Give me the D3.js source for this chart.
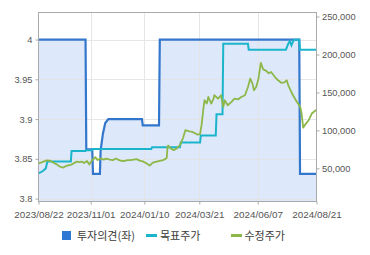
<!DOCTYPE html>
<html><head><meta charset="utf-8">
<script src="https://cdn.jsdelivr.net/npm/d3@7"></script>
<style>html,body{margin:0;padding:0;background:#fff;}svg{display:block;}</style>
</head><body>
<svg id="chart" width="370" height="255"></svg>
<script>
// Investment opinion (left axis)
const opinionDates = ["2023-08-22","2023-10-25","2023-10-26","2023-11-03","2023-11-04","2023-11-13","2023-11-14","2023-11-17","2023-11-20","2023-11-24","2024-01-07","2024-01-08","2024-01-29","2024-01-30","2024-07-30","2024-07-31","2024-08-21"];
const opinionValues = [4,4,3.862,3.862,3.831,3.831,3.861,3.882,3.895,3.9,3.9,3.892,3.892,4,4,3.831,3.831];

// Target price (right axis)
const targetDates = ["2023-08-22","2023-08-28","2023-09-01","2023-09-03","2023-10-05","2023-10-06","2023-10-25","2023-10-26","2023-11-03","2023-11-04","2024-01-19","2024-01-20","2024-02-25","2024-02-26","2024-03-22","2024-03-23","2024-04-12","2024-04-13","2024-04-21","2024-04-22","2024-05-25","2024-05-26","2024-07-13","2024-07-16","2024-07-18","2024-07-20","2024-07-23","2024-07-30","2024-07-31","2024-08-21"];
const targetValues = [43400,46500,50000,58900,58900,72700,72700,74000,74000,75500,75500,77700,77700,84000,84000,93200,93200,121300,121300,214000,214000,206300,206300,214200,217600,212000,219400,219400,206300,206300];

// Adjusted price (right axis)
const priceDates = ["2023-08-22","2023-08-27","2023-09-02","2023-09-07","2023-09-11","2023-09-16","2023-09-20","2023-09-25","2023-09-29","2023-10-06","2023-10-13","2023-10-17","2023-10-20","2023-10-23","2023-10-27","2023-10-30","2023-11-03","2023-11-07","2023-11-10","2023-11-14","2023-11-18","2023-11-21","2023-11-26","2023-11-30","2023-12-04","2023-12-08","2023-12-11","2023-12-14","2023-12-19","2023-12-23","2023-12-27","2023-12-31","2024-01-04","2024-01-08","2024-01-12","2024-01-17","2024-01-21","2024-01-26","2024-01-30","2024-02-03","2024-02-06","2024-02-08","2024-02-09","2024-02-10","2024-02-13","2024-02-17","2024-02-21","2024-02-25","2024-02-29","2024-03-03","2024-03-08","2024-03-12","2024-03-16","2024-03-19","2024-03-22","2024-03-24","2024-03-25","2024-03-27","2024-03-28","2024-03-31","2024-04-02","2024-04-04","2024-04-06","2024-04-09","2024-04-10","2024-04-15","2024-04-19","2024-04-22","2024-04-24","2024-04-28","2024-05-03","2024-05-07","2024-05-12","2024-05-16","2024-05-21","2024-05-25","2024-05-28","2024-05-31","2024-06-02","2024-06-05","2024-06-08","2024-06-11","2024-06-14","2024-06-18","2024-06-21","2024-06-24","2024-06-29","2024-07-03","2024-07-07","2024-07-11","2024-07-14","2024-07-16","2024-07-19","2024-07-22","2024-07-27","2024-07-31","2024-08-02","2024-08-04","2024-08-06","2024-08-11","2024-08-15","2024-08-20","2024-08-21"];
const priceValues = [56600,58300,60500,60000,57600,55000,52400,51100,53400,55000,58900,58300,58900,57000,59800,55000,60900,64800,60900,63100,61600,62900,61600,60900,62900,60900,60000,59600,60900,60900,61600,62200,60200,59200,57000,53700,57600,58900,60000,60900,62200,64000,78400,80000,76300,74000,76300,80500,90000,100300,98600,98100,96000,94500,95000,106900,115700,133100,139700,135300,144000,139700,135300,141900,146300,141900,146300,130900,139700,133100,137500,141900,141000,144000,146300,157200,168200,161600,152800,157200,168200,189000,180400,178400,175200,176900,170300,166000,162700,163300,166000,159400,152800,146300,137500,131800,122200,103600,106900,113400,122200,126600,126600];

const xTickDates = ["2023-08-22","2023-11-01","2024-01-10","2024-03-21","2024-06-07","2024-08-21"];
const leftTicks = [3.8,3.85,3.9,3.95,4];
const rightTicks = [50000,100000,150000,200000,250000];
const legendLabels = ["투자의견(좌)","목표주가","수정주가"];

const parse = d3.timeParse("%Y-%m-%d");
const fmtDate = d3.timeFormat("%Y/%m/%d");

const C = {opinion:"#3377cc", fill:"#dde8fa", target:"#1bb5cb", price:"#8db849", grid:"#e4e4e4", axis:"#aaaaaa", text:"#555555"};
const plotL = 38.5, plotR = 316.5, plotT = 12.5, plotB = 201;

const svg = d3.select("#chart");

const x = d3.scaleTime()
  .domain(xTickDates.map(parse))
  .range([plotL, 90.7, 144.3, 199.3, 257.7, plotR]);
const yL = d3.scaleLinear().domain([3.797, 4.034]).range([plotB, plotT]);
const yR = d3.scaleLinear().domain([7000, 255300]).range([plotB, plotT]);

const opinion = opinionDates.map((d,i)=>({d:parse(d), v:opinionValues[i]}));
const target = targetDates.map((d,i)=>({d:parse(d), v:targetValues[i]}));
const price = priceDates.map((d,i)=>({d:parse(d), v:priceValues[i]}));

// shaded area under the opinion line
svg.append("path").datum(opinion)
  .attr("fill", C.fill)
  .attr("d", d3.area().x(p=>x(p.d)).y0(plotB).y1(p=>yL(p.v)));

// grid
const grid = svg.append("g").attr("stroke", C.grid).attr("stroke-width", 1).attr("opacity", 0.9);
grid.selectAll("line.h").data(leftTicks).join("line").attr("class","h")
  .attr("x1", plotL).attr("x2", plotR)
  .attr("y1", d=>Math.round(yL(d))+0.5).attr("y2", d=>Math.round(yL(d))+0.5);
grid.selectAll("line.v").data(xTickDates.slice(1,-1)).join("line").attr("class","v")
  .attr("y1", plotT).attr("y2", plotB)
  .attr("x1", d=>Math.round(x(parse(d)))+0.5).attr("x2", d=>Math.round(x(parse(d)))+0.5);

// series lines
svg.append("path").datum(opinion)
  .attr("fill","none").attr("stroke", C.opinion).attr("stroke-width", 2.2)
  .attr("d", d3.line().x(p=>x(p.d)).y(p=>yL(p.v)));
svg.append("path").datum(target)
  .attr("fill","none").attr("stroke", C.target).attr("stroke-width", 2)
  .attr("d", d3.line().x(p=>x(p.d)).y(p=>yR(p.v)));
svg.append("path").datum(price)
  .attr("fill","none").attr("stroke", C.price).attr("stroke-width", 1.8).attr("stroke-linejoin","round")
  .attr("d", d3.line().x(p=>x(p.d)).y(p=>yR(p.v)));

// frame
svg.append("rect").attr("x", plotL).attr("y", plotT).attr("width", plotR-plotL).attr("height", plotB-plotT+0.5)
  .attr("fill","none").attr("stroke", C.axis);

function styleAxis(g, size){
  g.select(".domain").remove();
  g.selectAll(".tick line").attr("stroke", C.axis);
  g.selectAll(".tick text").attr("fill", C.text)
    .style("font-family","'Liberation Sans', Arial, sans-serif").style("font-size", size+"px");
}

svg.append("g").attr("transform", `translate(${plotL},0)`)
  .call(d3.axisLeft(yL).tickValues(leftTicks).tickSize(3).tickPadding(3).tickFormat(d3.format("")))
  .call(g=>styleAxis(g, 9.3));
svg.append("g").attr("transform", `translate(${plotR},0)`)
  .call(d3.axisRight(yR).tickValues(rightTicks).tickSize(3).tickPadding(2.5).tickFormat(d3.format(",")))
  .call(g=>styleAxis(g, 9.3));
svg.append("g").attr("transform", `translate(0,${plotB+0.5})`)
  .call(d3.axisBottom(x).tickValues(xTickDates.map(parse)).tickSize(3).tickPadding(6).tickFormat(fmtDate))
  .call(g=>styleAxis(g, 9.9));

// legend
const lg = svg.append("g").style("font-family","'Noto Sans CJK KR', sans-serif").style("font-size","11px").attr("fill","#3a3a3a");
lg.append("rect").attr("x",62).attr("y",231).attr("width",9).attr("height",9).attr("fill","#2e77d2");
lg.append("text").attr("x",77).attr("y",239.5).text(legendLabels[0]);
lg.append("line").attr("x1",146).attr("x2",157).attr("y1",235.5).attr("y2",235.5).attr("stroke",C.target).attr("stroke-width",3);
lg.append("text").attr("x",160).attr("y",239.5).text(legendLabels[1]);
lg.append("line").attr("x1",231).attr("x2",242).attr("y1",235.5).attr("y2",235.5).attr("stroke",C.price).attr("stroke-width",3);
lg.append("text").attr("x",244.5).attr("y",239.5).text(legendLabels[2]);
</script>
</body></html>
